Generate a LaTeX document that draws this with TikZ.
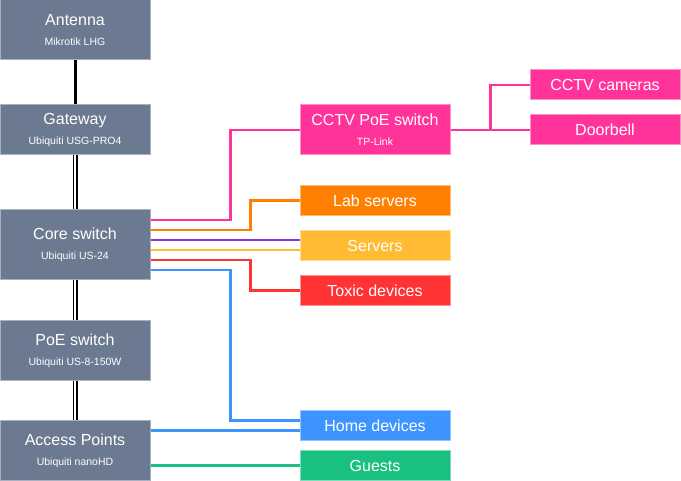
\documentclass[tikz,border=0pt]{standalone}
\usepackage{fontspec}
\setmainfont{Liberation Sans}
\usepackage{xcolor}
\usepackage{tikz}
\usetikzlibrary{calc}

\definecolor{boxgray}{HTML}{6B7A90}
\definecolor{boxedge}{HTML}{A9B1BE}
\definecolor{netpink}{HTML}{FF3399}
\definecolor{netorange}{HTML}{FF8000}
\definecolor{netyellow}{HTML}{FFBB33}
\definecolor{netred}{HTML}{FF3333}
\definecolor{netblue}{HTML}{3D94FF}
\definecolor{netgreen}{HTML}{19C080}
\definecolor{netpurple}{HTML}{8833DD}

\tikzset{
  devbox/.style={draw=boxedge, fill=boxgray, line width=1pt, text=white,
    minimum width=150pt, inner sep=0pt, align=center,
    font=\fontsize{16}{20}\selectfont},
  zonebox/.style={draw=#1!55!white, fill=#1, line width=1pt, text=white,
    minimum width=150pt, minimum height=30pt, inner sep=0pt, align=center,
    font=\fontsize{16}{20}\selectfont},
  wire/.style={line width=2.7pt, #1},
  uplink/.style={double, double distance=2.6pt, line width=1.2pt}
}
\newcommand{\model}[1]{{\fontsize{10.5}{12}\selectfont #1}}

\begin{document}
\begin{tikzpicture}[x=1pt,y=-1pt]
\useasboundingbox (0,0) rectangle (681,481);

% Devices on the left
\node[devbox, minimum height=60pt] (antenna) at (75,30) {Antenna\\\model{Mikrotik LHG}};
\node[devbox, minimum height=50pt] (gateway) at (75,130) {Gateway\\\model{Ubiquiti USG-PRO4}};
\node[devbox, minimum height=70pt] (core) at (75,245) {Core switch\\\model{Ubiquiti US-24}};
\node[devbox, minimum height=60pt] (poe) at (75,350.5) {PoE switch\\\model{Ubiquiti US-8-150W}};
\node[devbox, minimum height=60pt] (ap) at (75,450.5) {Access Points\\\model{Ubiquiti nanoHD}};

% Networks on the right
\node[zonebox=netpink, minimum height=50pt] (cctv) at (375,130) {CCTV PoE switch\\\model{TP-Link}};
\node[zonebox=netpink] (cams) at (605,85) {CCTV cameras};
\node[zonebox=netpink] (doorbell) at (605,130) {Doorbell};
\node[zonebox=netorange] (lab) at (375,200.5) {Lab servers};
\node[zonebox=netyellow] (servers) at (375,245.5) {Servers};
\node[zonebox=netred] (toxic) at (375,290.5) {Toxic devices};
\node[zonebox=netblue] (home) at (375,425.5) {Home devices};
\node[zonebox=netgreen] (guests) at (375,465.5) {Guests};

% Uplinks
\draw[line width=3pt] (antenna.south) -- (gateway.north);
\draw[uplink] (gateway.south) -- (core.north);
\draw[uplink] (core.south) -- (poe.north);
\draw[uplink] (poe.south) -- (ap.north);

% Core switch ports
\draw[wire=netpink] ([yshift=25pt]core.east) -- ++(80,0) |- (cctv.west);
\draw[wire=netorange] ([yshift=15pt]core.east) -- ++(100,0) |- (lab.west);
\draw[wire=netpurple] ([yshift=5pt]core.east) -- ([yshift=5pt]core.east -| servers.west);
\draw[wire=netyellow] ([yshift=-5pt]core.east) -- ([yshift=-5pt]core.east -| servers.west);
\draw[wire=netred] ([yshift=-15pt]core.east) -- ++(100,0) |- (toxic.west);
\draw[wire=netblue] ([yshift=-25pt]core.east) -- ++(80,0) |- ([yshift=5pt]home.west);

% Access points
\draw[wire=netblue] ([yshift=20pt]ap.east) -- ([yshift=20pt]ap.east -| home.west);
\draw[wire=netgreen] (guests.west -| ap.east) -- (guests.west);

% CCTV switch
\draw[wire=netpink] (cctv.east) -- (doorbell.west);
\draw[wire=netpink] (cctv.east) -- ++(40,0) |- (cams.west);

\end{tikzpicture}
\end{document}
